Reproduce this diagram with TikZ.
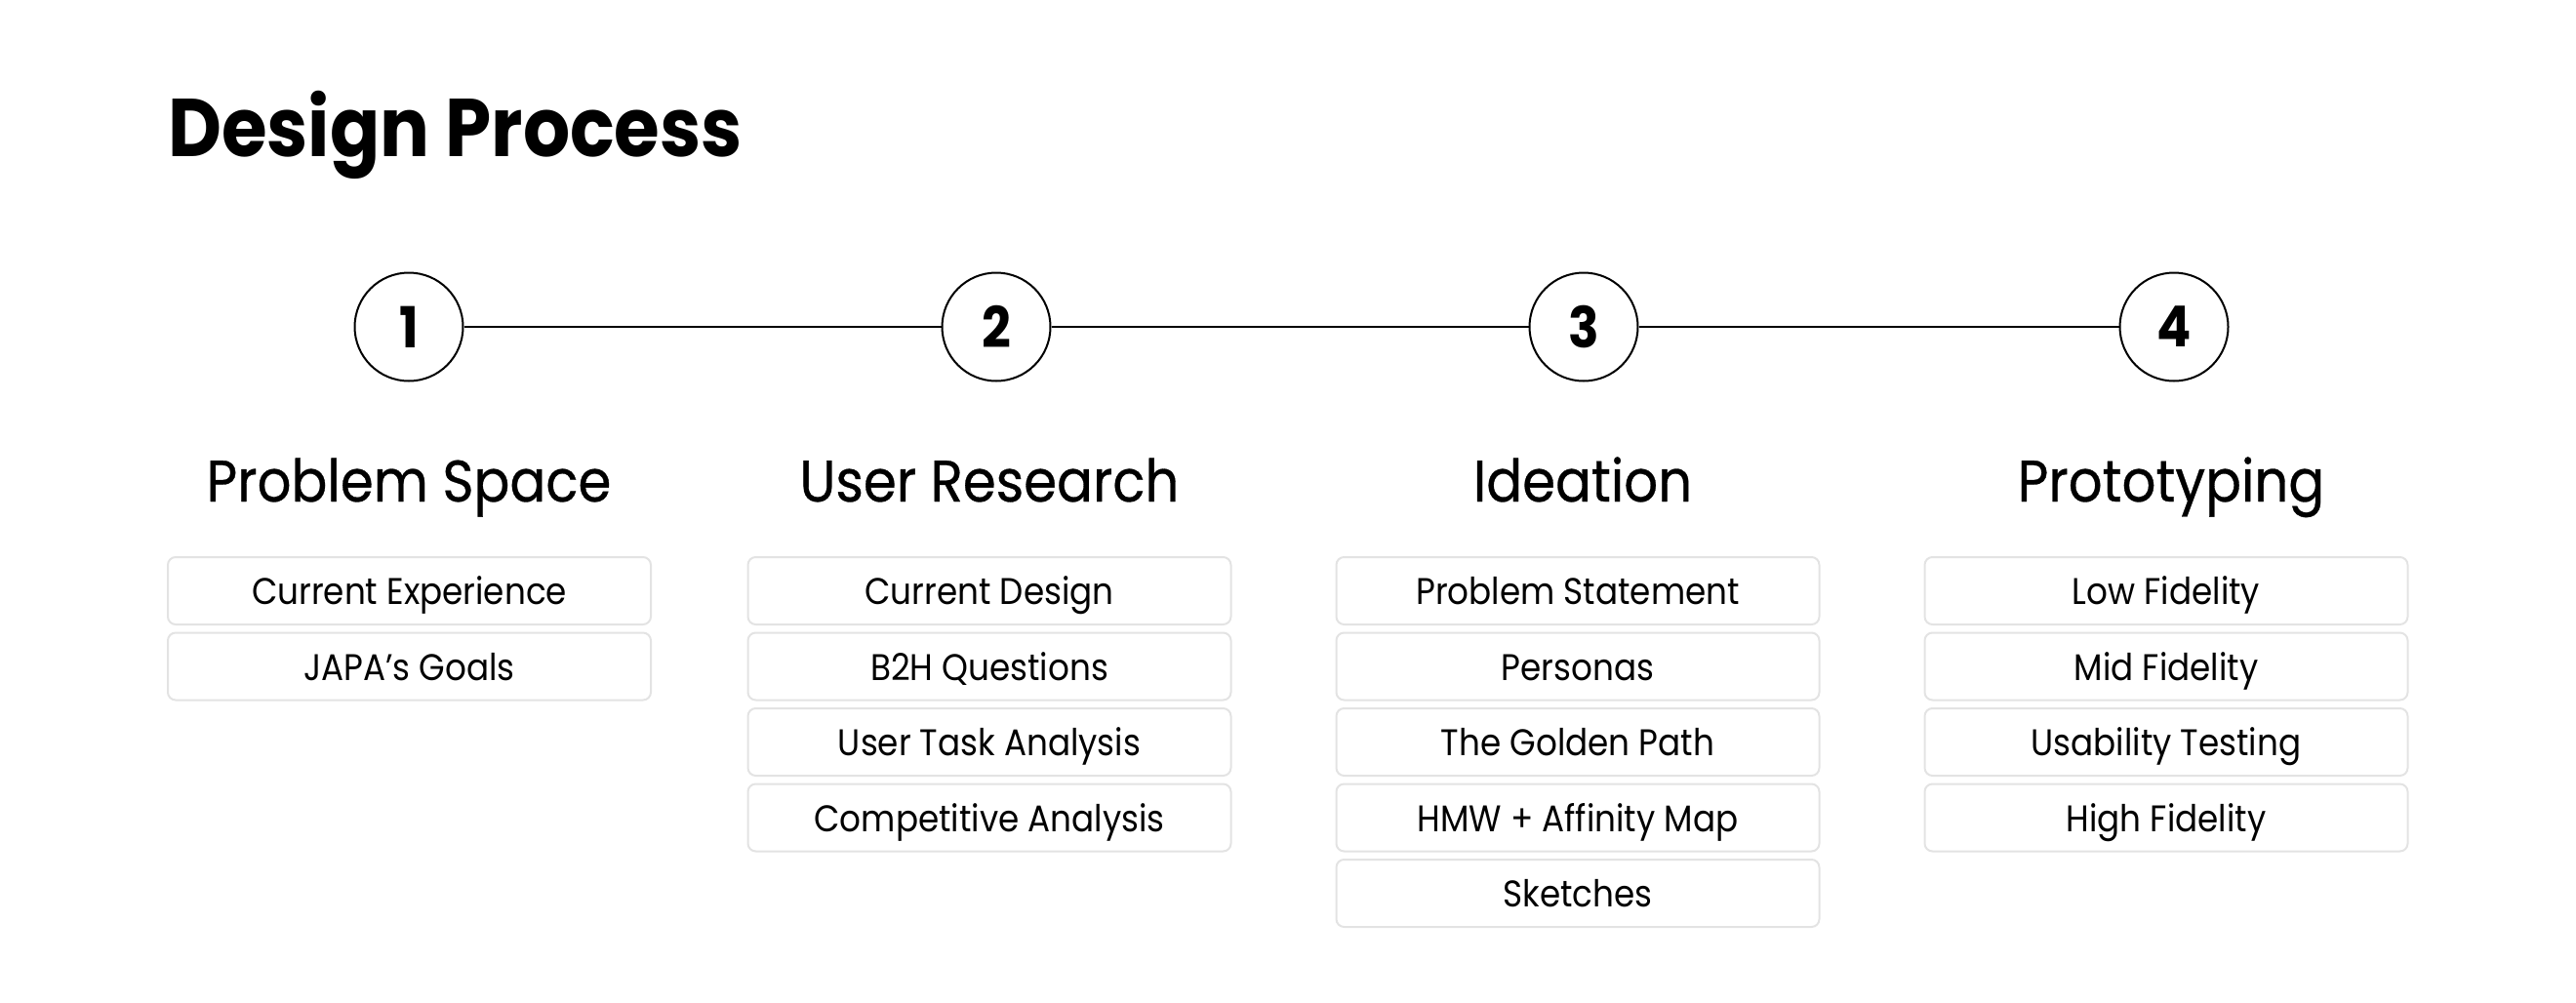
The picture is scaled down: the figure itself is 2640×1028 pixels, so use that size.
\documentclass[tikz,border=0pt]{standalone}
\usepackage{fontspec}
\setmainfont[FakeStretch=0.9]{Poppins}
\newfontfamily\headfont[FakeStretch=0.91,FakeBold=0.5]{Poppins}
\usetikzlibrary{positioning}
\definecolor{boxline}{HTML}{E3E3E3}
\tikzset{
  stepcircle/.style={circle,draw,line width=2pt,minimum size=111pt,inner sep=0pt,
    font=\fontsize{58}{58}\selectfont\bfseries},
  phase/.style={anchor=base,inner sep=0pt,font=\fontsize{60}{60}\headfont},
  item/.style={draw=boxline,line width=2pt,rounded corners=8pt,minimum width=495pt,
    minimum height=69pt,inner sep=0pt,text height=28pt,text depth=0pt,
    font=\fontsize{38}{38}\selectfont}
}
\begin{document}
\begin{tikzpicture}[x=1pt,y=-1pt]
\useasboundingbox (0,0) rectangle (2640,1028);
\node[anchor=base west,inner sep=0pt,font=\fontsize{84}{84}\selectfont\bfseries] (title) at (172,160) {Design Process};
% steps
\node[stepcircle] (s1) at (419,335) {1};
\node[stepcircle] (s2) at (1021,335) {2};
\node[stepcircle] (s3) at (1623,335) {3};
\node[stepcircle] (s4) at (2228,335) {4};
\draw[line width=2pt] (s1) -- (s2) (s2) -- (s3) (s3) -- (s4);
% phase names
\node[phase] (h1) at (419,514) {Problem Space};
\node[phase] (h2) at (1014,514) {User Research};
\node[phase] (h3) at (1622,514) {Ideation};
\node[phase] (h4) at (2225,514) {Prototyping};
% problem space
\node[item] (p1) at (419.5,605.5) {Current Experience};
\node[item,below=6.5pt of p1] (p2) {JAPA’s Goals};
% user research
\node[item] (r1) at (1014,605.5) {Current Design};
\node[item,below=6.5pt of r1] (r2) {B2H Questions};
\node[item,below=6.5pt of r2] (r3) {User Task Analysis};
\node[item,below=6.5pt of r3] (r4) {Competitive Analysis};
% ideation
\node[item] (i1) at (1617,605.5) {Problem Statement};
\node[item,below=6.5pt of i1] (i2) {Personas};
\node[item,below=6.5pt of i2] (i3) {The Golden Path};
\node[item,below=6.5pt of i3] (i4) {HMW + Affinity Map};
\node[item,below=6.5pt of i4] (i5) {Sketches};
% prototyping
\node[item] (t1) at (2220,605.5) {Low Fidelity};
\node[item,below=6.5pt of t1] (t2) {Mid Fidelity};
\node[item,below=6.5pt of t2] (t3) {Usability Testing};
\node[item,below=6.5pt of t3] (t4) {High Fidelity};
\end{tikzpicture}
\end{document}
